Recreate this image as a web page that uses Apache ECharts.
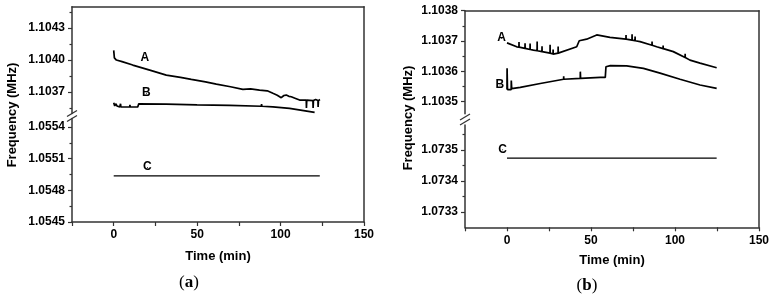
<!DOCTYPE html>
<html>
<head>
<meta charset="utf-8">
<script src="https://cdn.jsdelivr.net/npm/echarts@6/dist/echarts.min.js"></script>
<style>
  html, body { margin: 0; padding: 0; background: #fff; }
  #chart { width: 775px; height: 300px; }
</style>
</head>
<body>
<div id="chart"></div>
<script>
// time axis (min)
const timeTicks = [-25, 0, 25, 50, 75, 100, 125, 150]
const timeLabels = [0, 50, 100, 150]

// panel (a) frequency ticks (MHz)
const aUpperTicks = [1.1037, 1.1040, 1.1043]
const aUpperMinor = [1.10355, 1.10385, 1.10415, 1.10445]
const aLowerTicks = [1.0545, 1.0548, 1.0551, 1.0554]
const aLowerMinor = [1.05465, 1.05495, 1.05525]

// panel (b) frequency ticks (MHz)
const bUpperTicks = [1.1035, 1.1036, 1.1037, 1.1038]
const bUpperMinor = [1.10355, 1.10365, 1.10375]
const bLowerTicks = [1.0733, 1.0734, 1.0735]
const bLowerMinor = [1.07335, 1.07345, 1.07355]

// panel (a) curves: [time, frequency]
const aCurveA = [
  [0, 1.10409], [0.4, 1.10402], [1.6, 1.10400], [5, 1.103985], [11.4, 1.103953],
  [21.6, 1.103906], [31.5, 1.103859], [40, 1.103838], [46.5, 1.103819], [55, 1.103795],
  [61.5, 1.103775], [70, 1.10375], [77.4, 1.103725], [82, 1.10373], [87.4, 1.103719],
  [92, 1.103712], [95.4, 1.103688], [98, 1.10367], [100.4, 1.103647], [102, 1.103668],
  [103.4, 1.103672], [105, 1.10366], [106.4, 1.103656], [109, 1.10364], [111.4, 1.103625],
  [115.4, 1.103625], [115.5, 1.10355], [115.7, 1.103625], [119.4, 1.10362], [119.5, 1.10355],
  [119.7, 1.10362], [121, 1.10363], [122.4, 1.10362], [122.5, 1.10356], [122.7, 1.10362],
  [123.6, 1.10363]
]
const aCurveB = [
  [0, 1.10360], [0.6, 1.10357], [1.2, 1.10359], [2, 1.10357], [3.6, 1.10356],
  [4, 1.10356], [4.1, 1.10359], [4.3, 1.10356], [9.6, 1.10356], [9.7, 1.10358],
  [9.9, 1.10356], [14.4, 1.10356], [15, 1.10359], [31.5, 1.103586], [50, 1.10358],
  [69.5, 1.103575], [88.5, 1.103567], [88.6, 1.103587], [88.8, 1.103567], [95.4, 1.103562],
  [95.5, 1.10358], [95.7, 1.103562], [105.4, 1.103547], [120.4, 1.10351]
]
const aCurveC = [[0, 1.054938], [123.5, 1.054938]]

// panel (b) curves: [time, frequency]
const bCurveA = [
  [0, 1.103694], [5.8, 1.103681], [7.1, 1.10368], [7.15, 1.103697], [7.2, 1.10368],
  [10.7, 1.103676], [10.75, 1.103693], [10.8, 1.103676], [13.7, 1.103672], [13.75, 1.103692],
  [13.8, 1.103672], [15.7, 1.10367], [17.9, 1.103668], [17.95, 1.103698], [18, 1.103668],
  [20.8, 1.103665], [20.85, 1.103683], [20.9, 1.103665], [25.6, 1.10366], [25.65, 1.103688],
  [25.7, 1.10366], [27.4, 1.103657], [27.45, 1.103672], [27.5, 1.103657], [30.4, 1.10366],
  [30.45, 1.103682], [30.5, 1.10366], [41.5, 1.103681], [43, 1.103701], [47.4, 1.103706],
  [53.4, 1.10372], [61.3, 1.103712], [70.8, 1.103706], [70.85, 1.10372], [70.9, 1.103706],
  [74.4, 1.103703], [74.45, 1.103722], [74.5, 1.103703], [76.2, 1.103701], [76.25, 1.103715],
  [76.3, 1.103701], [79.2, 1.103698], [86.3, 1.103686], [86.35, 1.103698], [86.4, 1.103686],
  [89.1, 1.103681], [92.9, 1.103675], [92.95, 1.103685], [93, 1.103675], [99, 1.103665],
  [106, 1.103646], [106.05, 1.103658], [106.1, 1.103646], [108.9, 1.103637], [114.9, 1.103627],
  [124.8, 1.103612]
]
const bCurveB = [
  [0, 1.10354], [0.05, 1.10361], [0.3, 1.10354], [2.5, 1.10354], [2.55, 1.10357],
  [2.8, 1.103543], [7.9, 1.103547], [19.8, 1.10356], [33.7, 1.103574], [33.75, 1.103584],
  [33.8, 1.103574], [43.6, 1.103577], [43.65, 1.103599], [43.8, 1.103577], [55.5, 1.10358],
  [58.5, 1.10358], [58.9, 1.103615], [61.5, 1.103619], [71.2, 1.103618], [81.2, 1.10361],
  [91.1, 1.103594], [103, 1.103574], [114.9, 1.103555], [124.8, 1.103544]
]
const bCurveC = [
  [0, 1.073473], [86, 1.073473], [86.05, 1.073478], [86.1, 1.073473], [116.7, 1.073473],
  [116.75, 1.073478], [116.8, 1.073473], [119.6, 1.073473], [119.65, 1.073478], [119.7, 1.073473],
  [124.8, 1.073473]
]

// curve labels: [name, time, frequency]
const aUpperNames = [['A', 18.6, 1.104016], ['B', 19.6, 1.10369]]
const aLowerNames = [['C', 20.2, 1.055016]]
const bUpperNames = [['A', -3.2, 1.103709], ['B', -4.2, 1.103555]]
const bLowerNames = [['C', -2.6, 1.0735]]

const FONT = '"Liberation Sans", Arial, sans-serif'
const INK = '#000'
const AXIS = '#333'

const grid = []
const xAxis = []
const yAxis = []
const series = []

function addGrid(box) {
  grid.push(Object.assign({ outerBoundsMode: 'none', containLabel: false }, box))
  return grid.length - 1
}

function addTimeAxis(g, withLabels) {
  xAxis.push({
    type: 'value',
    gridIndex: g,
    min: -25,
    max: 150,
    show: withLabels,
    name: withLabels ? 'Time (min)' : '',
    nameLocation: 'middle',
    nameGap: 27,
    nameTextStyle: { color: INK, fontFamily: FONT, fontWeight: 'bold', fontSize: 13 },
    axisLine: { show: true, onZero: false, lineStyle: { color: AXIS, width: 1.5 } },
    axisTick: { show: true, customValues: timeTicks, length: 4, lineStyle: { color: AXIS, width: 1.2 } },
    axisLabel: {
      customValues: timeLabels,
      margin: 7,
      color: INK,
      fontFamily: FONT,
      fontWeight: 'bold',
      fontSize: 12,
      formatter: (v) => String(v)
    },
    splitLine: { show: false }
  })
  return xAxis.length - 1
}

function addFreqAxes(g, min, max, ticks, minor) {
  yAxis.push({
    type: 'value',
    gridIndex: g,
    position: 'left',
    min,
    max,
    axisLine: { show: true, onZero: false, lineStyle: { color: AXIS, width: 1.5 } },
    axisTick: { show: true, customValues: ticks, length: 4, lineStyle: { color: AXIS, width: 1.2 } },
    axisLabel: {
      customValues: ticks,
      margin: 7,
      color: INK,
      fontFamily: FONT,
      fontWeight: 'bold',
      fontSize: 12,
      formatter: (v) => v.toFixed(4)
    },
    splitLine: { show: false }
  })
  const main = yAxis.length - 1
  yAxis.push({
    type: 'value',
    gridIndex: g,
    position: 'left',
    min,
    max,
    axisLine: { show: false, onZero: false },
    axisTick: { show: true, customValues: minor, length: 2.5, lineStyle: { color: AXIS, width: 1.2 } },
    axisLabel: { show: false },
    splitLine: { show: false }
  })
  return main
}

function addFrame(g) {
  xAxis.push({
    type: 'value', gridIndex: g, position: 'top', min: 0, max: 1,
    axisLine: { show: true, onZero: false, lineStyle: { color: AXIS, width: 1.5 } },
    axisTick: { show: false }, axisLabel: { show: false }, splitLine: { show: false }
  })
  yAxis.push({
    type: 'value', gridIndex: g, position: 'right', min: 0, max: 1,
    axisLine: { show: true, onZero: false, lineStyle: { color: AXIS, width: 1.5 } },
    axisTick: { show: false }, axisLabel: { show: false }, splitLine: { show: false }
  })
}

function addCurve(xi, yi, data, width) {
  series.push({
    type: 'line',
    xAxisIndex: xi,
    yAxisIndex: yi,
    data,
    symbol: 'none',
    showSymbol: false,
    lineStyle: { color: '#000', width },
    silent: true
  })
}

function addNames(xi, yi, names) {
  series.push({
    type: 'scatter',
    xAxisIndex: xi,
    yAxisIndex: yi,
    symbolSize: 1,
    itemStyle: { color: '#000', opacity: 1 },
    data: names.map((n) => ({ name: n[0], value: [n[1], n[2]] })),
    label: {
      show: true,
      position: 'top',
      distance: -6,
      formatter: '{b}',
      color: INK,
      fontFamily: FONT,
      fontWeight: 'bold',
      fontSize: 12,
      textBorderWidth: 0
    },
    silent: true
  })
}

function buildPanel(p) {
  const gu = addGrid({ left: p.left, width: p.width, top: p.upperTop, height: p.upperHeight })
  const xu = addTimeAxis(gu, false)
  const yu = addFreqAxes(gu, p.upperMin, p.upperMax, p.upperTicks, p.upperMinor)

  const gl = addGrid({ left: p.left, width: p.width, top: p.lowerTop, height: p.lowerHeight })
  const xl = addTimeAxis(gl, true)
  xAxis[xl].nameGap = p.nameGap
  const yl = addFreqAxes(gl, p.lowerMin, p.lowerMax, p.lowerTicks, p.lowerMinor)

  const gf = addGrid({ left: p.left, width: p.width, top: p.upperTop, height: p.lowerTop + p.lowerHeight - p.upperTop })
  addFrame(gf)

  addCurve(xu, yu, p.curveA, 1.7)
  addCurve(xu, yu, p.curveB, 1.7)
  addCurve(xl, yl, p.curveC, 1.3)
  addNames(xu, yu, p.upperNames)
  addNames(xl, yl, p.lowerNames)
}

buildPanel({
  left: 72, width: 292,
  upperTop: 6.7, upperHeight: 106.7, upperMin: 1.1035, upperMax: 1.1045,
  lowerTop: 118.6, lowerHeight: 103.4, lowerMin: 1.0545, lowerMax: 1.05548,
  upperTicks: aUpperTicks, upperMinor: aUpperMinor,
  lowerTicks: aLowerTicks, lowerMinor: aLowerMinor,
  curveA: aCurveA, curveB: aCurveB, curveC: aCurveC,
  upperNames: aUpperNames, lowerNames: aLowerNames,
  nameGap: 28
})

buildPanel({
  left: 465, width: 294,
  upperTop: 10.7, upperHeight: 103.1, upperMin: 1.10346, upperMax: 1.1038,
  lowerTop: 125, lowerHeight: 102.3, lowerMin: 1.07325, lowerMax: 1.07358,
  upperTicks: bUpperTicks, upperMinor: bUpperMinor,
  lowerTicks: bLowerTicks, lowerMinor: bLowerMinor,
  curveA: bCurveA, curveB: bCurveB, curveC: bCurveC,
  upperNames: bUpperNames, lowerNames: bLowerNames,
  nameGap: 27
})

function breakMark(x, y) {
  return [-2.5, 2.5].map((d) => ({
    type: 'line',
    silent: true,
    shape: { x1: x - 5, y1: y + d + 3, x2: x + 5, y2: y + d - 3 },
    style: { stroke: AXIS, lineWidth: 1.3 }
  }))
}

function yName(x, y) {
  return {
    type: 'text',
    silent: true,
    x,
    y,
    rotation: Math.PI / 2,
    style: {
      text: 'Frequency (MHz)',
      font: 'bold 13px ' + FONT,
      fill: INK,
      textAlign: 'center',
      textVerticalAlign: 'middle'
    }
  }
}

function caption(x, y, letter) {
  return {
    type: 'text',
    silent: true,
    x,
    y,
    style: {
      text: '{p|(}{l|' + letter + '}{p|)}',
      textAlign: 'center',
      textVerticalAlign: 'middle',
      rich: {
        p: { font: '17px "Liberation Serif", "DejaVu Serif", serif', fill: INK },
        l: { font: 'bold 17px "Liberation Serif", "DejaVu Serif", serif', fill: INK }
      }
    }
  }
}

const chart = echarts.init(document.getElementById('chart'), null, { renderer: 'canvas' })
chart.setOption({
  animation: false,
  backgroundColor: '#fff',
  grid,
  xAxis,
  yAxis,
  series,
  graphic: [
    ...breakMark(72, 116),
    ...breakMark(465, 119.5),
    yName(12, 115),
    yName(408, 118),
    caption(189, 283, 'a'),
    caption(587, 286, 'b')
  ]
})
</script>
</body>
</html>
